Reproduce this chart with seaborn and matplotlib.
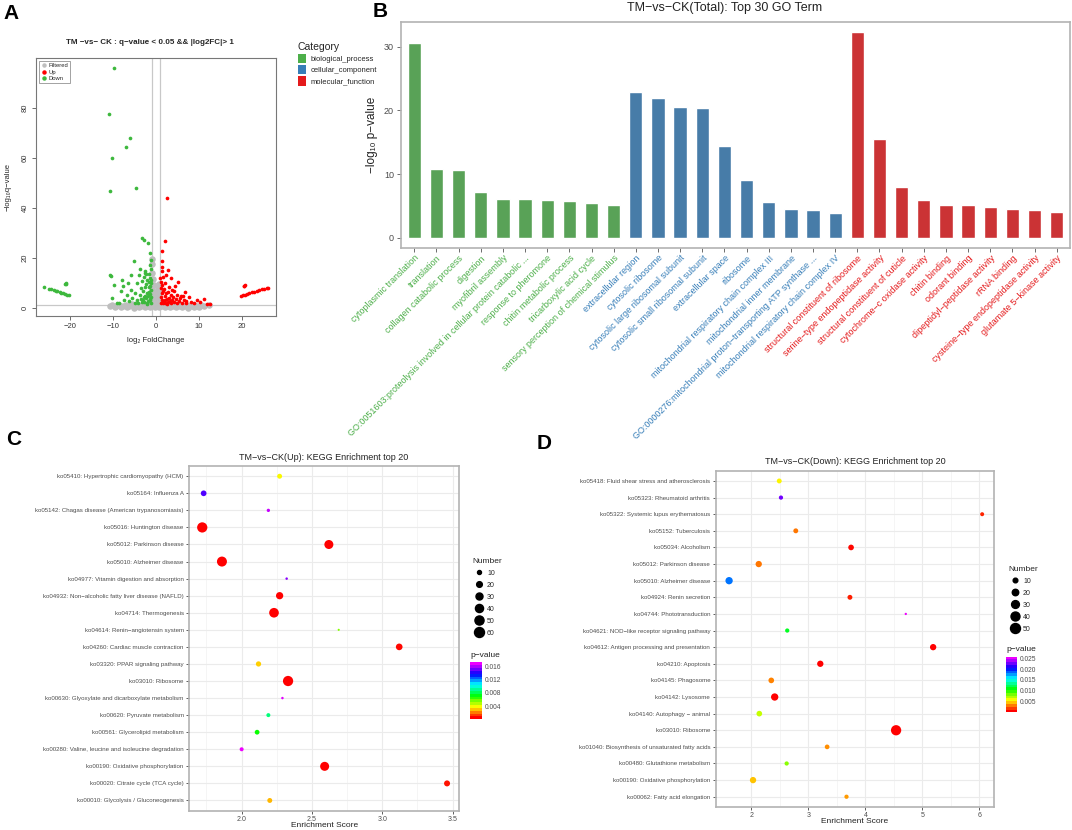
import numpy as np
import pandas as pd
import matplotlib
matplotlib.use("Agg")
import matplotlib.pyplot as plt
from matplotlib.colors import ListedColormap, Normalize
from matplotlib.cm import ScalarMappable
from matplotlib.lines import Line2D
from matplotlib.patches import Patch
import seaborn as sns

# ─── DATA ─────────────────────────────────────────────────────────────────────
# A: volcano plot
filt_x = [-9.6, -8.1, -6.7, -5.2, -3.9, -2.6, -1.4, -0.3, 0.8, 2.0, 3.3, 4.6, 6.0, 7.4, 8.8, 10.1,
          -10.8, -9.3, -7.8, -6.3, -4.9, -3.5, -2.2, -1.0, 0.2, 1.3, 2.6, 3.9, 5.3, 6.7, 8.1, 9.6, 11.2,
          -10.2, -8.6, -7.0, -5.5, -4.1, -2.8, -1.6, -0.5, 0.6, 1.8, 3.1, 4.5, 5.9, 7.3, 8.9, 10.5, 12.3,
          -0.8, -0.4, 0.1, 0.5, -0.6, 0.3, -0.2, 0.7, -0.9, 0.4, -0.5, 0.8, -0.7, -0.9, -1.0, -0.95,
          0.6, 0.9, -0.3, 0.0]
filt_y = [0.2, 0.3, 0.2, 0.1, 0.3, 0.2, 0.4, 0.3, 0.2, 0.4, 0.3, 0.2, 0.3, 0.1, 0.3, 0.2,
          0.7, 0.8, 0.6, 0.9, 0.7, 0.8, 0.9, 1.0, 0.8, 0.9, 0.7, 0.8, 0.6, 0.7, 0.8, 0.6, 0.7,
          1.2, 1.3, 1.2, 1.4, 1.3, 1.5, 1.4, 1.6, 1.5, 1.3, 1.4, 1.2, 1.3, 1.1, 1.2, 1.1, 1.0,
          2.5, 3.2, 2.1, 3.8, 4.6, 5.5, 6.3, 4.4, 7.2, 8.1, 9.0, 6.8, 11.5, 14.0, 17.5, 19.5,
          9.5, 2.9, 1.8, 4.0]

up_x = [1.2, 1.5, 1.1, 1.8, 2.2, 1.3, 1.6, 1.2, 2.5, 2.0, 2.8, 1.4, 1.1, 1.9, 2.3, 3.1, 3.4, 3.8,
        4.2, 2.7, 3.5, 4.6, 5.0, 5.4, 6.0, 6.5, 7.1, 7.6, 8.2, 8.9, 9.6, 10.3, 11.1, 12.5, 11.8,
        4.1, 3.0, 2.2, 5.2, 4.8, 5.9, 6.8, 1.7, 1.3, 2.9, 1.3, 1.3, 2.0, 2.6, 1.5, 3.6, 2.4, 4.4,
        1.0, 3.2, 2.6, 1.9, 4.0, 5.6, 7.0, 3.7, 2.1, 1.6, 6.2,
        19.8, 20.3, 20.8, 21.3, 21.8, 22.4, 22.9, 23.5, 24.1, 24.7, 25.3, 25.8, 26.1, 20.6, 20.8, 20.5]
up_y = [2.0, 3.2, 4.5, 2.4, 1.8, 5.8, 6.9, 8.0, 3.6, 4.9, 2.2, 9.2, 10.5, 7.4, 5.8, 4.1, 1.9, 3.0,
        2.2, 6.5, 5.3, 3.6, 1.8, 2.9, 2.1, 3.3, 1.8, 4.4, 2.5, 1.9, 3.1, 2.2, 3.5, 1.7, 1.6,
        6.8, 8.4, 10.0, 10.4, 5.0, 4.7, 6.2, 12.3, 14.8, 15.3, 18.7, 22.7, 26.8, 44.1, 16.5, 12.0, 13.0, 8.9,
        11.8, 2.7, 1.6, 2.9, 4.3, 3.9, 2.8, 7.1, 3.0, 1.9, 4.9,
        4.7, 5.0, 5.3, 5.6, 5.9, 6.2, 6.5, 6.8, 7.1, 7.4, 7.7, 8.0, 8.1, 8.9, 9.1, 8.6]

down_x = [-9.9, -10.9, -6.0, -7.0, -10.3, -10.7, -4.7, -3.3, -1.8, -2.9, -5.1, -1.4, -10.8, -10.5,
          -8.0, -5.9, -3.7, -2.6, -2.3,
          -1.2, -1.5, -1.1, -1.8, -2.1, -1.3, -1.6, -1.2, -2.4, -1.9, -2.7, -1.4, -1.1, -1.7, -2.2,
          -2.9, -3.3, -1.3, -1.6, -2.5, -3.0, -3.6, -4.1, -2.0, -1.2, -2.3, -3.8, -4.5, -5.0, -5.6,
          -6.2, -4.8, -3.4, -2.8, -6.8, -7.4, -8.1, -9.2, -9.8, -7.6, -5.9, -4.4, -3.9, -1.5, -1.1,
          -10.2, -8.6, -6.5, -2.6, -3.2, -2.0, -1.4, -1.9, -2.6, -3.1, -1.2, -1.7,
          -26.1, -25.0, -24.4, -23.9, -23.4, -23.0, -22.5, -22.1, -21.7, -21.2, -20.8, -20.4,
          -21.1, -21.3, -21.0]
down_y = [95.8, 77.6, 67.9, 64.5, 60.1, 46.9, 48.0, 27.9, 26.1, 27.0, 18.9, 21.9, 13.2, 12.7,
          11.3, 13.2, 15.5, 14.0, 13.6,
          2.0, 3.1, 4.2, 2.6, 1.9, 5.5, 6.4, 7.3, 3.8, 4.7, 2.5, 8.6, 9.8, 10.5, 6.0,
          4.4, 2.2, 12.0, 13.5, 8.2, 6.8, 3.6, 2.0, 11.2, 15.5, 9.6, 5.2, 3.0, 2.1, 4.0,
          2.6, 6.1, 8.0, 12.5, 5.3, 3.3, 6.6, 2.0, 9.3, 8.7, 7.3, 10.1, 13.2, 17.0, 19.2,
          4.1, 1.8, 9.8, 14.8, 10.8, 1.6, 3.6, 5.8, 4.9, 3.1, 11.0, 8.3,
          8.4, 7.7, 7.4, 7.1, 6.8, 6.6, 6.3, 6.0, 5.8, 5.6, 5.3, 5.1,
          9.8, 9.6, 9.5]

# B: GO bar chart
bp_terms = ["cytoplasmic translation", "translation", "collagen catabolic process", "digestion",
            "myofibril assembly",
            "GO:0051603:proteolysis involved in cellular protein catabolic ...",
            "response to pheromone", "chitin metabolic process", "tricarboxylic acid cycle",
            "sensory perception of chemical stimulus"]
bp_values = [30.6, 10.8, 10.6, 7.2, 6.1, 6.1, 6.0, 5.8, 5.4, 5.2]
cc_terms = ["extracellular region", "cytosolic ribosome", "cytosolic large ribosomal subunit",
            "cytosolic small ribosomal subunit", "extracellular space", "ribosome",
            "mitochondrial respiratory chain complex III", "mitochondrial inner membrane",
            "GO:0000276:mitochondrial proton\u2212transporting ATP synthase ...",
            "mitochondrial respiratory chain complex IV"]
cc_values = [22.9, 21.9, 20.5, 20.4, 14.5, 9.1, 5.6, 4.6, 4.4, 3.9]
mf_terms = ["structural constituent of ribosome", "serine\u2212type endopeptidase activity",
            "structural constituent of cuticle", "cytochrome\u2212c oxidase activity",
            "chitin binding", "odorant binding", "dipeptidyl\u2212peptidase activity", "rRNA binding",
            "cysteine\u2212type endopeptidase activity", "glutamate 5\u2212kinase activity"]
mf_values = [32.3, 15.5, 8.0, 5.9, 5.2, 5.1, 4.9, 4.5, 4.4, 4.0]
categories = ["biological_process", "cellular_component", "molecular_function"]

# C: KEGG up
up_terms = ["ko05410: Hypertrophic cardiomyopathy (HCM)", "ko05164: Influenza A",
            "ko05142: Chagas disease (American trypanosomiasis)", "ko05016: Huntington disease",
            "ko05012: Parkinson disease", "ko05010: Alzheimer disease",
            "ko04977: Vitamin digestion and absorption",
            "ko04932: Non\u2212alcoholic fatty liver disease (NAFLD)", "ko04714: Thermogenesis",
            "ko04614: Renin\u2212angiotensin system", "ko04260: Cardiac muscle contraction",
            "ko03320: PPAR signaling pathway", "ko03010: Ribosome",
            "ko00630: Glyoxylate and dicarboxylate metabolism", "ko00620: Pyruvate metabolism",
            "ko00561: Glycerolipid metabolism",
            "ko00280: Valine, leucine and isoleucine degradation",
            "ko00190: Oxidative phosphorylation", "ko00020: Citrate cycle (TCA cycle)",
            "ko00010: Glycolysis / Gluconeogenesis"]
up_score = [2.27, 1.73, 2.19, 1.72, 2.62, 1.86, 2.32, 2.27, 2.23, 2.69,
            3.12, 2.12, 2.33, 2.29, 2.19, 2.11, 2.00, 2.59, 3.46, 2.20]
up_count = [15, 20, 7, 63, 49, 60, 4, 32, 56, 3, 27, 17, 63, 4, 10, 14, 10, 49, 22, 15]
up_pvalue = [0.0035, 0.0150, 0.0166, 1e-6, 1e-5, 1e-6, 0.0158, 1e-4, 1e-6, 0.0052,
             2e-4, 0.0029, 1e-8, 0.0170, 0.0086, 0.0069, 0.0172, 1e-5, 3e-4, 0.0026]

# D: KEGG down
down_terms = ["ko05418: Fluid shear stress and atherosclerosis", "ko05323: Rheumatoid arthritis",
              "ko05322: Systemic lupus erythematosus", "ko05152: Tuberculosis",
              "ko05034: Alcoholism", "ko05012: Parkinson disease", "ko05010: Alzheimer disease",
              "ko04924: Renin secretion", "ko04744: Phototransduction",
              "ko04621: NOD\u2212like receptor signaling pathway",
              "ko04612: Antigen processing and presentation", "ko04210: Apoptosis",
              "ko04145: Phagosome", "ko04142: Lysosome", "ko04140: Autophagy \u2212 animal",
              "ko03010: Ribosome", "ko01040: Biosynthesis of unsaturated fatty acids",
              "ko00480: Glutathione metabolism", "ko00190: Oxidative phosphorylation",
              "ko00062: Fatty acid elongation"]
down_score = [2.49, 2.52, 6.05, 2.78, 3.75, 2.13, 1.61, 3.73, 4.71, 2.63,
              5.19, 3.21, 2.35, 2.41, 2.14, 4.54, 3.33, 2.62, 2.03, 3.67]
down_count = [11, 8, 7, 11, 15, 19, 26, 11, 2, 8, 19, 19, 15, 26, 15, 53, 10, 8, 19, 8]
down_pvalue = [0.0052, 0.0232, 0.0009, 0.0026, 0.0003, 0.0026, 0.0185, 0.0007, 0.0258, 0.0112,
               1e-4, 1e-4, 0.0028, 1e-5, 0.0065, 1e-9, 0.0030, 0.0077, 0.0041, 0.0033]

# ─── STYLE ───────────────────────────────────────────────────────────────────
sns.set_theme(style="white")
plt.rcParams["font.family"] = ["Liberation Sans", "DejaVu Sans"]
CAT_COLORS = {"biological_process": "#4DAF4A", "cellular_component": "#377EB8",
              "molecular_function": "#E41A1C"}
RAINBOW = ListedColormap(plt.cm.hsv(np.linspace(0, 5 / 6, 256)))
BORDER = "#B3B3B3"
TXT = "#4D4D4D"

W, H = 1072, 830
fig = plt.figure(figsize=(W / 100, H / 100), dpi=100)


def box(l, t, r, b):
    return [l / W, 1 - b / H, (r - l) / W, (b - t) / H]


def ftext(x, y, s, **kw):
    fig.text(x / W, 1 - y / H, s, **kw)


# panel letters
for letter, (lx, ly) in {"A": (3, 4), "B": (373, 2), "C": (6, 430), "D": (537, 434)}.items():
    ftext(lx, ly, letter, fontsize=15, fontweight="bold", ha="left", va="top", color="black")

# ── A. volcano ───────────────────────────────────────────────────────────────
axA = fig.add_axes(box(36, 58, 276, 316))
sns.scatterplot(x=filt_x, y=filt_y, color="#BEBEBE", s=22, linewidth=0, ax=axA)
sns.scatterplot(x=up_x, y=up_y, color="#FF0000", s=7, linewidth=0, ax=axA)
sns.scatterplot(x=down_x, y=down_y, color="#3DB83D", s=7, linewidth=0, ax=axA)
for v in (-1, 1):
    axA.axvline(v, color="#C8C8C8", lw=0.9, zorder=0)
axA.axhline(-np.log10(0.05), color="#C8C8C8", lw=0.9, zorder=0)
axA.set_xlim(-28, 28)
axA.set_ylim(-3.3, 100)
axA.set_xticks([-20, -10, 0, 10, 20])
axA.set_yticks([0, 20, 40, 60, 80])
axA.tick_params(axis="both", length=3, width=0.6, color="#555555", labelsize=5.5,
                labelcolor="#333333", pad=2, bottom=True, left=True)
plt.setp(axA.get_yticklabels(), rotation=90, va="center")
for sp in axA.spines.values():
    sp.set_color("#777777")
    sp.set_linewidth(0.8)
ftext(150, 42, "TM \u2212vs\u2212 CK : q\u2212value < 0.05 && |log2FC|> 1", fontsize=5.8,
      fontweight="bold", ha="center", va="center")
ftext(156, 340, "log\u2082 FoldChange", fontsize=5.5, ha="center", va="center")
ftext(8, 187, "\u2212log\u2081\u2080q\u2212value", fontsize=5.5, ha="center", va="center", rotation=90)
hA = [Line2D([], [], marker="o", ls="", color=c, markersize=2.2) for c in ("#BEBEBE", "#FF0000", "#3DB83D")]
legA = axA.legend(hA, ["Filtered", "Up", "Down"], loc="upper left", fontsize=4.2, frameon=True,
                  borderpad=0.4, handlelength=0.8, handletextpad=0.4, labelspacing=0.2,
                  borderaxespad=0.5, fancybox=False)
legA.get_frame().set_edgecolor("#777777")
legA.get_frame().set_linewidth(0.6)

# ── B. GO bars ───────────────────────────────────────────────────────────────
axB = fig.add_axes(box(401, 22, 1070, 248))
go = pd.DataFrame({
    "term": bp_terms + cc_terms + mf_terms,
    "value": bp_values + cc_values + mf_values,
    "cat": [categories[0]] * len(bp_terms) + [categories[1]] * len(cc_terms)
           + [categories[2]] * len(mf_terms),
})
sns.barplot(data=go, x="term", y="value", hue="cat", palette=CAT_COLORS, dodge=False,
            width=0.6, legend=False, order=go["term"], ax=axB)
axB.set_xlim(-0.6, len(go) - 0.4)
axB.set_ylim(-1.6, 33.9)
axB.set_yticks([0, 10, 20, 30])
axB.set_xlabel("")
axB.set_ylabel("\u2212log\u2081\u2080 p\u2212value", fontsize=8.5, color="#222222", labelpad=4)
axB.tick_params(axis="x", length=3, width=0.6, color="#555555", pad=1)
axB.tick_params(axis="y", length=3, width=0.6, color="#555555", labelsize=6.5,
                labelcolor=TXT, pad=2, left=True)
axB.tick_params(bottom=True)
for lab, cat in zip(axB.get_xticklabels(), go["cat"]):
    lab.set_rotation(45)
    lab.set_ha("right")
    lab.set_va("top")
    lab.set_rotation_mode("anchor")
    lab.set_fontsize(6.5)
    lab.set_color(CAT_COLORS[cat])
for sp in axB.spines.values():
    sp.set_color(BORDER)
    sp.set_linewidth(1.2)
ftext(725, 8, "TM\u2212vs\u2212CK(Total): Top 30 GO Term", fontsize=9, ha="center", va="center",
      color="#222222")
hB = [Patch(facecolor=CAT_COLORS[c], edgecolor="none") for c in categories]
legB = fig.legend(hB, categories, title="Category", loc="upper left",
                  bbox_to_anchor=(294 / W, 1 - 38 / H), frameon=False, fontsize=5.5,
                  title_fontsize=7.5, handlelength=1.1, handleheight=1.5, handletextpad=0.6,
                  labelspacing=0.25, borderpad=0)
legB._legend_box.align = "left"


# ── C / D. KEGG dot plots ────────────────────────────────────────────────────
def dot_panel(rect, terms, score, count, pvalue, pmax, size_ab, xlim, xticks, xminor,
              title, title_xy, xlabel_y, size_breaks, leg_xy, cbar_rect, cbar_ticks):
    ax = fig.add_axes(rect)
    df = pd.DataFrame({"pos": np.arange(len(terms)), "score": score, "count": count,
                       "pvalue": pvalue})
    a, b = size_ab
    diam = lambda n: (a + b * np.sqrt(n)) * 0.72
    sizes = {n: diam(n) ** 2 for n in df["count"].unique()}
    sns.scatterplot(data=df, x="score", y="pos", hue="pvalue", palette=RAINBOW,
                    hue_norm=(0, pmax), size="count", sizes=sizes, linewidth=0,
                    legend=False, ax=ax, zorder=3)
    ax.set_xlim(*xlim)
    ax.set_ylim(len(terms) - 0.4, -0.6)
    ax.set_yticks(df["pos"])
    ax.set_yticklabels(terms)
    ax.set_xticks(xticks)
    ax.set_xticks(xminor, minor=True)
    ax.grid(which="major", color="#EBEBEB", lw=0.8)
    ax.grid(which="minor", axis="x", color="#F2F2F2", lw=0.5)
    ax.set_axisbelow(True)
    ax.tick_params(axis="both", which="major", length=2.5, width=0.6, color="#444444",
                   labelsize=4.4, labelcolor=TXT, pad=1.5, left=True, bottom=True)
    ax.tick_params(axis="x", labelsize=5)
    ax.tick_params(which="minor", length=0)
    ax.set_xlabel("")
    ax.set_ylabel("")
    for sp in ax.spines.values():
        sp.set_color(BORDER)
        sp.set_linewidth(1.2)
    pos = ax.get_position()
    ftext(title_xy[0], title_xy[1], title, fontsize=6.5, ha="center", va="center",
          color="#222222")
    ftext((pos.x0 + pos.width / 2) * W, xlabel_y, "Enrichment Score", fontsize=6,
          ha="center", va="center", color="#222222")
    handles = [Line2D([], [], marker="o", ls="", color="black", markersize=diam(n))
               for n in size_breaks]
    leg = fig.legend(handles, [str(n) for n in size_breaks], title="Number", loc="upper left",
                     bbox_to_anchor=(leg_xy[0] / W, 1 - leg_xy[1] / H), frameon=False,
                     fontsize=5, title_fontsize=6, handlelength=1.8, handleheight=1.1,
                     labelspacing=0.6, handletextpad=0.3, borderpad=0)
    leg._legend_box.align = "left"
    cax = fig.add_axes(cbar_rect)
    cb = fig.colorbar(ScalarMappable(Normalize(0, pmax), RAINBOW.resampled(20)), cax=cax)
    cb.set_ticks(cbar_ticks)
    cb.set_ticklabels([f"{t:.3f}" for t in cbar_ticks])
    cb.outline.set_visible(False)
    cax.tick_params(length=2, width=0.6, color="white", direction="in", labelsize=4.8,
                    labelcolor=TXT, pad=2)
    l, t = cbar_rect[0] * W, (1 - cbar_rect[1] - cbar_rect[3]) * H
    ftext(l, t - 7, "p\u2212value", fontsize=6, ha="left", va="center", color="#222222")
    return ax


dot_panel(box(189.3, 466, 459, 810.7), up_terms, up_score, up_count, up_pvalue, 0.0172,
          (-0.13, 1.307), (1.628, 3.545), [2.0, 2.5, 3.0, 3.5], [1.75, 2.25, 2.75, 3.25],
          "TM\u2212vs\u2212CK(Up): KEGG Enrichment top 20", (324, 457), 825,
          [10, 20, 30, 40, 50, 60], (469, 555), box(470, 662.3, 482, 719.3),
          [0.004, 0.008, 0.012, 0.016])
dot_panel(box(715.7, 471, 994.3, 806.7), down_terms, down_score, down_count, down_pvalue,
          0.0258, (0.41, 1.355), (1.375, 6.263), [2, 3, 4, 5, 6], [2.5, 3.5, 4.5, 5.5],
          "TM\u2212vs\u2212CK(Down): KEGG Enrichment top 20", (855, 461), 821,
          [10, 20, 30, 40, 50], (1005, 563), box(1006, 656.7, 1017, 712.3),
          [0.005, 0.010, 0.015, 0.020, 0.025])

fig.savefig("out.png", dpi=100)
plt.close(fig)
